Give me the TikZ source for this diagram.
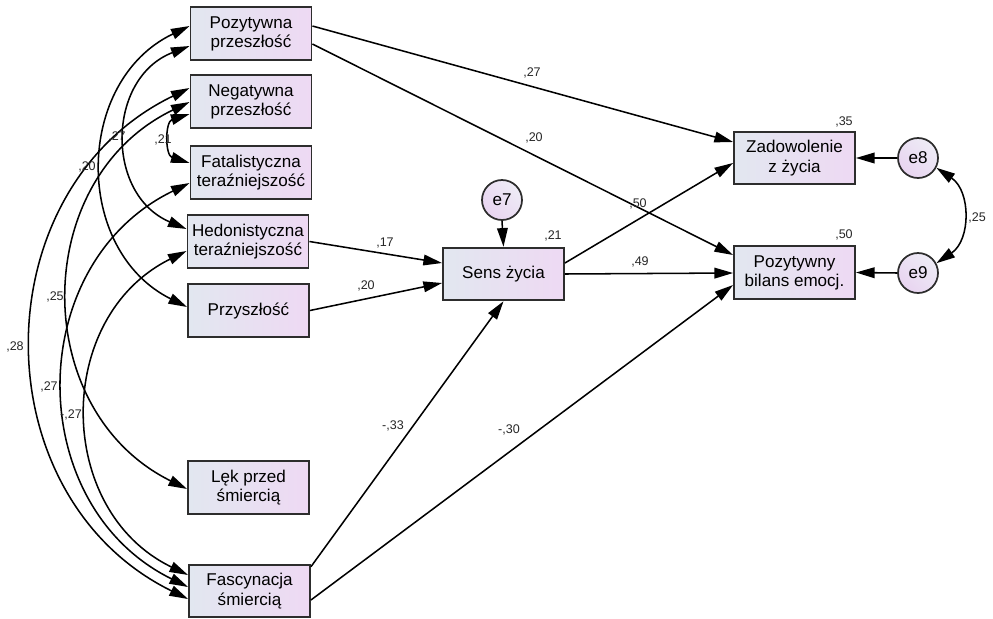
\documentclass[tikz,border=0pt]{standalone}
\usepackage{fontspec}
\setmainfont{Liberation Sans}
\usetikzlibrary{arrows.meta,calc}
\definecolor{boxL}{RGB}{226,231,240}
\definecolor{boxR}{RGB}{238,217,243}
\definecolor{errL}{RGB}{238,236,246}
\definecolor{errR}{RGB}{232,212,240}
\definecolor{edge}{RGB}{45,45,45}
\begin{document}
\begin{tikzpicture}[x=0.75pt,y=-0.75pt,
  var/.style={draw=edge, line width=1.4pt, left color=boxL, right color=boxR,
    minimum width=90.75pt, minimum height=39.5pt, inner sep=0pt, align=center,
    text=black, font=\fontsize{12.8}{14.4}\selectfont},
  err/.style={circle, draw=edge, line width=1.3pt, left color=errL, right color=errR,
    shading angle=-45, minimum size=30pt, inner sep=0pt, text=black,
    font=\fontsize{12.8}{14.4}\selectfont},
  tipA/.tip={Triangle[length=14pt,width=8pt]},
  reg/.style={draw=black, line width=1.15pt, -tipA},
  cov/.style={draw=black, line width=1.15pt, tipA-tipA},
  lab/.style={font=\fontsize{9.4}{10}\selectfont, inner sep=0pt, text=black!85}
]
\useasboundingbox (0,0) rectangle (993,618);

% observed variables
\node[var] (PP) at (251,33.5) {Pozytywna\\przeszłość};
\node[var] (NP) at (251,101.5) {Negatywna\\przeszłość};
\node[var] (FT) at (251,172.5) {Fatalistyczna\\teraźniejszość};
\node[var] (HT) at (248,241.5) {Hedonistyczna\\teraźniejszość};
\node[var] (PR) at (248.5,310.5) {Przyszłość};
\node[var] (LS) at (248.5,487.5) {Lęk przed\\śmiercią};
\node[var] (FS) at (249.5,591) {Fascynacja\\śmiercią};
\node[var] (SZ) at (503.5,274) {Sens życia};
\node[var] (ZZ) at (794.5,158) {Zadowolenie\\z życia};
\node[var] (PB) at (794.5,272.5) {Pozytywny\\bilans emocj.};
% errors
\node[err] (e7) at (502,200) {e7};
\node[err] (e8) at (918,158) {e8};
\node[err] (e9) at (918,273) {e9};

% regression paths
\draw[reg] ($(PP.east)+(0,-7.5)$) -- ($(ZZ.west)+(0,-16)$);
\draw[reg] ($(PP.east)+(0,10.5)$) -- ($(PB.west)+(0,-17.5)$);
\draw[reg] (HT.east) -- ($(SZ.west)+(0,-11)$);
\draw[reg] (PR.east) -- ($(SZ.west)+(0,9)$);
\draw[reg] ($(SZ.east)+(0,-11)$) -- ($(ZZ.west)+(0,5)$);
\draw[reg] (SZ.east) -- ($(PB.west)+(0,0.5)$);
\draw[reg] ($(FS.north east)+(0,3)$) -- (SZ.south);
\draw[reg] ($(FS.east)+(0,9)$) -- ($(PB.west)+(0,12.5)$);
\draw[reg] (e7.south) -- (SZ.north);
\draw[reg] (e8.west) -- (ZZ.east);
\draw[reg] (e9.west) -- (PB.east);

% covariances
\draw[cov] ($(PP.west)+(0,-7.5)$) to[bend right=64, looseness=1.16] ($(PR.west)+(0,-3.5)$);
\draw[cov] ($(PP.west)+(0,12.5)$) to[bend right=68, looseness=1.24] ($(HT.west)+(0,-12.5)$);
\draw[cov] ($(NP.west)+(0,12.5)$) to[bend right=72.6, looseness=1.35] ($(FT.west)+(0,-9.5)$);
\draw[cov] ($(NP.west)+(0,-13.5)$) to[bend right=64, looseness=1.16] ($(FS.west)+(0,8)$);
\draw[cov] ($(NP.west)+(0,0.5)$) to[bend right=64, looseness=1.17] ($(LS.west)+(0,1.5)$);
\draw[cov] ($(FT.west)+(0,10.5)$) to[bend right=64, looseness=1.17] ($(FS.west)+(0,-4)$);
\draw[cov] ($(HT.west)+(0,9.5)$) to[bend right=64, looseness=1.17] ($(FS.west)+(0,-16)$);
\draw[cov] (e8.-28) to[bend left=56, looseness=1.12] (e9.28);

% labels
\node[lab] (l1) at (532,73) {,27};
\node[lab] (l2) at (534,138) {,20};
\node[lab] (l3) at (638,204) {,50};
\node[lab] (l4) at (553,236) {,21};
\node[lab] (l5) at (640,262) {,49};
\node[lab] (l6) at (385,243) {,17};
\node[lab] (l7) at (366,286) {,20};
\node[lab] (l8) at (844,122) {,35};
\node[lab] (l9) at (844,235) {,50};
\node[lab] (l10) at (977,218) {,25};
\node[lab] (l11) at (393,426) {-,33};
\node[lab] (l12) at (509,430) {-,30};
\node[lab] (l13) at (117,137) {,27};
\node[lab] (l14) at (163,140) {,21};
\node[lab] (l15) at (87,167) {,20};
\node[lab] (l16) at (55,297) {,25};
\node[lab] (l17) at (15,347) {,28};
\node[lab] (l18) at (49,387) {,27};
\node[lab] (l19) at (71,415) {-,27};
\end{tikzpicture}
\end{document}
